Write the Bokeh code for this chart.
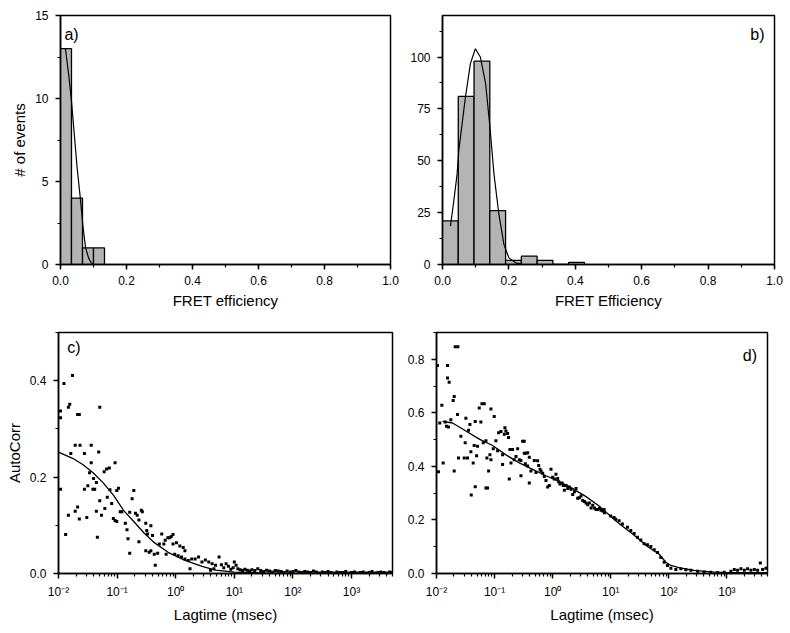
from bokeh.plotting import figure
from bokeh.layouts import column, row
from bokeh.models import (Range1d, SingleIntervalTicker, FixedTicker, NumeralTickFormatter,
                          CustomJSTickFormatter, Label)
from bokeh.embed import file_html
from bokeh.resources import INLINE
import numpy as np

FONT = "Liberation Sans"

# ---------------- data ----------------
# a) FRET efficiency histogram
a_bin_edges = [0.0, 0.0333, 0.0667, 0.1, 0.1333]
a_counts = [13, 4, 1, 1]
a_fit_x = [0.015, 0.025, 0.033, 0.042, 0.05, 0.06, 0.068, 0.076, 0.085, 0.093, 0.1]
a_fit_y = [13.0, 11.4, 9.9, 7.8, 5.9, 4.0, 2.3, 1.0, 0.4, 0.1, 0.0]

# b) FRET Efficiency histogram
b_bin_edges = [0.0, 0.0475, 0.095, 0.1425, 0.19, 0.2375, 0.285, 0.3325, 0.38, 0.4275]
b_counts = [21, 81, 98, 26, 2, 4, 2, 0, 1]
b_fit_x = [0.024, 0.034, 0.044, 0.049, 0.069, 0.084, 0.099, 0.114, 0.13, 0.143, 0.155,
           0.17, 0.185, 0.2, 0.22, 0.235]
b_fit_y = [18.5, 30.6, 43.6, 54.8, 80.6, 96.8, 104, 100, 87, 66, 43.6,
           24, 9.7, 3.2, 0.8, 0.3]

# c) autocorrelation (log10 of lag time in msec)
c_lag_exp_short = [
    -1.761, -1.907, -1.965, -1.965, -1.808, -1.831, -1.674, -1.645, -1.296, -1.965,
    -1.878, -1.831, -1.79, -1.715, -1.633, -1.558, -1.442, -1.314, -1.674, -1.645,
    -1.715, -1.517, -1.558, -1.5, -1.413, -1.383, -1.471, -1.442, -1.401, -1.354,
    -1.296, -1.267, -1.354, -1.337, -1.221, -1.18, -1.133, -1.035, -1.209, -1.168,
    -1.122, -1.093, -1.064, -1.035, -1.005, -1.005, -0.977, -0.947, -0.918, -0.86,
    -0.831, -0.814, -0.785, -0.744, -0.715, -0.686, -0.657, -0.628, -0.785, -0.628,
    -0.587, -0.57, -0.511, -0.494, -0.482, -0.424, -0.395, -0.453, -0.511, -0.424,
    -0.366, -0.349, -0.308, -0.279, -0.238, -0.203, -0.18, -0.134, -0.104, -0.075,
    -0.046, -0.163, -0.046, 0.012, 0.07, 0.128, 0.157, -0.017, 0.041, 0.099,
    0.157, 0.215, 0.244, 0.273, 0.332, 0.39, 0.448, 0.506, 0.564, 0.622,
    0.68, 0.593, 0.651]
c_corr_short = [
    0.411, 0.394, 0.337, 0.323, 0.351, 0.345, 0.330, 0.330, 0.345, 0.175,
    0.081, 0.121, 0.249, 0.266, 0.266, 0.249, 0.266, 0.252, 0.138, 0.113,
    0.129, 0.116, 0.175, 0.182, 0.175, 0.175, 0.209, 0.230, 0.197, 0.189,
    0.151, 0.121, 0.129, 0.075, 0.211, 0.217, 0.219, 0.230, 0.135, 0.158,
    0.174, 0.145, 0.114, 0.110, 0.108, 0.172, 0.177, 0.128, 0.128, 0.104,
    0.091, 0.072, 0.127, 0.155, 0.172, 0.125, 0.121, 0.111, 0.042, 0.066,
    0.131, 0.128, 0.104, 0.089, 0.082, 0.099, 0.079, 0.044, 0.047, 0.047,
    0.040, 0.017, 0.042, 0.061, 0.082, 0.061, 0.069, 0.074, 0.074, 0.077,
    0.081, 0.040, 0.061, 0.064, 0.057, 0.054, 0.047, 0.040, 0.037, 0.034,
    0.030, 0.027, 0.010, 0.030, 0.030, 0.034, 0.024, 0.028, 0.024, 0.020,
    0.017, 0.007, 0.010]
c_lag_exp_long = [
    0.74, 0.78, 0.82, 0.86, 0.90, 0.94, 0.98, 1.00, 1.03, 1.06,
    1.10, 1.14, 1.18, 1.22, 1.26, 1.30, 1.35, 1.40, 1.45, 1.50,
    1.55, 1.60, 1.65, 1.70, 1.75, 1.80, 1.85, 1.90, 1.95, 2.00,
    2.05, 2.10, 2.15, 2.20, 2.25, 2.30, 2.35, 2.40, 2.45, 2.50,
    2.55, 2.60, 2.65, 2.70, 2.75, 2.80, 2.85, 2.90, 2.95, 3.00,
    3.05, 3.10, 3.15, 3.20, 3.25, 3.30, 3.35, 3.40, 3.45, 3.50,
    3.55, 3.60, 3.65, 3.69]
c_corr_long = [
    0.034, 0.018, 0.012, 0.020, 0.015, 0.009, 0.012, 0.024, 0.017, 0.010,
    0.008, 0.006, 0.009, 0.007, 0.005, 0.008, 0.006, 0.010, 0.006, 0.004,
    0.007, 0.005, 0.003, 0.006, 0.005, 0.004, 0.002, 0.005, 0.003, 0.004,
    0.006, 0.003, 0.002, 0.004, 0.003, 0.002, 0.005, 0.003, 0.001, 0.003,
    0.002, 0.004, 0.002, 0.001, 0.003, 0.002, 0.002, 0.004, 0.001, 0.002,
    0.003, 0.001, 0.002, 0.003, 0.001, 0.002, 0.004, 0.001, 0.002, 0.003,
    0.002, 0.001, 0.003, 0.002]
c_fit_exp = [-2.0, -1.76, -1.586, -1.41, -1.237, -1.06, -0.89, -0.716, -0.54, -0.365,
             -0.13, 0.16, 0.45, 0.68, 1.0, 1.5, 2.0, 2.5, 3.0, 3.7]
c_fit_val = [0.252, 0.239, 0.226, 0.209, 0.188, 0.162, 0.131, 0.108, 0.084, 0.064,
             0.044, 0.027, 0.015, 0.007, 0.003, 0.001, 0.0, 0.0, 0.0, 0.0]

# d) autocorrelation (log10 of lag time in msec)
d_lag_exp_short = [
    -1.983, -1.81, -1.678, -1.632, -1.81, -1.782, -1.713, -1.695, -1.908, -1.943,
    -1.851, -1.828, -1.793, -1.753, -1.638, -1.494, -1.425, -1.333, -1.966, -1.885,
    -1.695, -1.621, -1.58, -1.523, -1.466, -1.506, -1.448, -1.408, -1.368, -1.351,
    -1.293, -1.31, -1.264, -1.218, -1.178, -1.236, -1.195, -1.149, -1.063, -1.006,
    -1.132, -1.103, -1.08, -1.063, -1.023, -0.977, -0.948, -1.333, -1.402, -1.149,
    -1.121, -0.931, -0.891, -0.862, -0.862, -0.833, -0.822, -0.805, -0.776, -0.759,
    -0.736, -0.718, -0.69, -0.661, -0.632, -0.603, -0.575, -0.546, -0.747, -0.517,
    -0.489, -0.489, -0.46, -0.431, -0.402, -0.471, -0.431, -0.402, -0.546, -0.374,
    -0.316, -0.287, -0.259, -0.241, -0.218, -0.201, -0.172, -0.144, -0.115, -0.086,
    -0.057, -0.029, 0.0, 0.029, 0.057, 0.086, 0.103, 0.126, 0.161, 0.184,
    0.201, 0.23, 0.259, 0.287, 0.316, 0.345, 0.374, 0.402, 0.431, 0.46,
    0.489, 0.517, 0.546, 0.575, 0.603, 0.632, 0.661, 0.69, 0.718, 0.747,
    0.776, 0.805, 0.833, 0.862, 0.891]
d_corr_short = [
    0.777, 0.777, 0.847, 0.847, 0.730, 0.714, 0.646, 0.661, 0.628, 0.562,
    0.566, 0.550, 0.547, 0.574, 0.594, 0.580, 0.556, 0.568, 0.380, 0.413,
    0.383, 0.431, 0.513, 0.431, 0.431, 0.488, 0.535, 0.455, 0.413, 0.478,
    0.475, 0.440, 0.618, 0.634, 0.634, 0.566, 0.488, 0.496, 0.614, 0.586,
    0.431, 0.383, 0.443, 0.425, 0.466, 0.496, 0.458, 0.324, 0.293, 0.319,
    0.319, 0.526, 0.530, 0.443, 0.407, 0.520, 0.544, 0.532, 0.523, 0.508,
    0.463, 0.413, 0.463, 0.425, 0.437, 0.466, 0.425, 0.422, 0.353, 0.494,
    0.494, 0.449, 0.449, 0.451, 0.434, 0.410, 0.401, 0.338, 0.365, 0.383,
    0.422, 0.377, 0.421, 0.403, 0.389, 0.383, 0.374, 0.362, 0.347, 0.323,
    0.329, 0.389, 0.359, 0.353, 0.371, 0.355, 0.343, 0.334, 0.338, 0.329,
    0.311, 0.329, 0.317, 0.323, 0.315, 0.295, 0.305, 0.317, 0.281, 0.283,
    0.289, 0.273, 0.269, 0.263, 0.257, 0.263, 0.245, 0.255, 0.245, 0.239,
    0.239, 0.243, 0.236, 0.233, 0.227]
d_lag_exp_long = [
    0.885, 1.0, 1.058, 1.087, 1.144, 1.201, 1.288, 1.345, 1.403, 1.46,
    1.518, 1.575, 1.632, 1.69, 1.748, 1.805, 1.862, 1.92, 1.977, 2.035,
    2.121, 2.207, 2.293, 2.379, 2.495, 2.61, 2.724, 2.839, 2.954, 3.069,
    3.127, 3.184, 3.242, 3.3, 3.357, 3.414, 3.472, 3.529, 3.575, 3.615,
    3.672]
d_corr_long = [
    0.239, 0.215, 0.209, 0.203, 0.197, 0.185, 0.173, 0.161, 0.149, 0.135,
    0.125, 0.111, 0.107, 0.101, 0.089, 0.078, 0.060, 0.042, 0.030, 0.020,
    0.015, 0.018, 0.014, 0.012, 0.008, 0.006, 0.005, 0.003, 0.005, 0.008,
    0.015, 0.012, 0.018, 0.012, 0.018, 0.012, 0.015, 0.012, 0.039, 0.015,
    0.020]
d_fit_exp = [-1.897, -1.724, -1.494, -1.264, -1.034, -0.805, -0.575, -0.345, -0.115, 0.115,
             0.345, 0.575, 0.805, 1.115, 1.403, 1.633, 1.834, 1.949, 2.035, 2.207,
             2.437, 2.724, 3.012, 3.7]
d_fit_val = [0.568, 0.562, 0.532, 0.502, 0.478, 0.443, 0.413, 0.389, 0.365, 0.343,
             0.317, 0.287, 0.251, 0.191, 0.143, 0.101, 0.072, 0.042, 0.03, 0.02,
             0.012, 0.006, 0.003, 0.003]

log_major = [0.01, 0.1, 1, 10, 100, 1000]

# ---------------- helpers ----------------
def make_fig(width, height, x_range, y_range, left, right, top, bottom, x_log=False):
    p = figure(width=width, height=height, x_range=x_range, y_range=y_range,
               x_axis_type="log" if x_log else "linear",
               output_backend="svg", toolbar_location=None,
               min_border_left=left, min_border_right=right,
               min_border_top=top, min_border_bottom=bottom,
               background_fill_color="white", border_fill_color="white")
    p.xgrid.visible = False
    p.ygrid.visible = False
    p.outline_line_color = "black"
    p.outline_line_width = 1.5
    p.outline_line_alpha = 1.0
    for ax in (p.xaxis[0], p.yaxis[0]):
        ax.axis_line_width = 1.5
        ax.axis_line_color = "black"
        ax.major_tick_line_color = "black"
        ax.minor_tick_line_color = "black"
        ax.major_tick_line_width = 1.5
        ax.minor_tick_line_width = 1.2
        ax.major_tick_in = 0
        ax.major_tick_out = 5
        ax.minor_tick_in = 0
        ax.minor_tick_out = 3
        ax.major_label_text_font = FONT
        ax.major_label_text_font_size = "12px"
        ax.major_label_text_color = "black"
        ax.axis_label_text_font = FONT
        ax.axis_label_text_font_size = "15px"
        ax.axis_label_text_font_style = "normal"
        ax.axis_label_text_color = "black"
    p.xaxis[0].major_label_standoff = 6
    p.xaxis[0].axis_label_standoff = 4
    p.yaxis[0].major_label_standoff = 7
    p.yaxis[0].axis_label_standoff = 4
    return p


def panel_label(p, x, y, text, align):
    p.add_layout(Label(x=x, y=y, text=text, text_font=FONT, text_font_size="16px",
                       text_baseline="middle", text_align=align, text_color="black"))


log_fmt = CustomJSTickFormatter(code="""
const e = Math.round(Math.log10(tick));
const sup = {'-':'\u207b','0':'\u2070','1':'\u00b9','2':'\u00b2','3':'\u00b3',
             '4':'\u2074','5':'\u2075','6':'\u2076','7':'\u2077','8':'\u2078','9':'\u2079'};
return '10' + String(e).split('').map(c => sup[c]).join('');
""")

minor_log = []
for m in log_major:
    for k in range(2, 10):
        minor_log.append(m * k)

BAR_FILL = "#b4b4b4"

# ---------------- panel a ----------------
pa = make_fig(403, 312, Range1d(0, 1), Range1d(0, 15), 60, 13, 15, 48)
pa.quad(left=a_bin_edges[:-1], right=a_bin_edges[1:], bottom=0, top=a_counts,
        fill_color=BAR_FILL, line_color="black", line_width=1.3)
pa.line(a_fit_x, a_fit_y, line_color="black", line_width=1.2)
pa.xaxis[0].ticker = SingleIntervalTicker(interval=0.2, num_minor_ticks=2)
pa.xaxis[0].formatter = NumeralTickFormatter(format="0.0")
pa.yaxis[0].ticker = SingleIntervalTicker(interval=5, num_minor_ticks=2)
pa.xaxis[0].axis_label = "FRET efficiency"
pa.yaxis[0].axis_label = "# of events"
panel_label(pa, 0.012, 13.85, "a)", "left")

# ---------------- panel b ----------------
pb = make_fig(387, 312, Range1d(0, 1), Range1d(0, 120), 39, 16, 15, 48)
pb.quad(left=b_bin_edges[:-1], right=b_bin_edges[1:], bottom=0, top=b_counts,
        fill_color=BAR_FILL, line_color="black", line_width=1.3)
pb.line(b_fit_x, b_fit_y, line_color="black", line_width=1.2)
pb.xaxis[0].ticker = SingleIntervalTicker(interval=0.2, num_minor_ticks=2)
pb.xaxis[0].formatter = NumeralTickFormatter(format="0.0")
pb.yaxis[0].ticker = SingleIntervalTicker(interval=25, num_minor_ticks=2)
pb.xaxis[0].axis_label = "FRET Efficiency"
panel_label(pb, 0.97, 110.7, "b)", "right")

# ---------------- panel c ----------------
pc = make_fig(403, 313, Range1d(0.01, 5000), Range1d(0, 0.5), 58, 11, 20, 45, x_log=True)
c_lag = 10 ** np.array(c_lag_exp_short + c_lag_exp_long)
c_corr = np.array(c_corr_short + c_corr_long)
pc.line(10 ** np.array(c_fit_exp), c_fit_val, line_color="black", line_width=1.3)
pc.scatter(c_lag, c_corr, marker="square", size=3, fill_color="black", line_color=None)
pc.xaxis[0].ticker = FixedTicker(ticks=log_major, minor_ticks=minor_log)
pc.xaxis[0].formatter = log_fmt
pc.yaxis[0].ticker = SingleIntervalTicker(interval=0.2, num_minor_ticks=2)
pc.yaxis[0].formatter = NumeralTickFormatter(format="0.0")
pc.xaxis[0].axis_label = "Lagtime (msec)"
pc.yaxis[0].axis_label = "AutoCorr"
panel_label(pc, 0.0141, 0.469, "c)", "left")

# ---------------- panel d ----------------
pd = make_fig(387, 313, Range1d(0.01, 5000), Range1d(0, 0.9), 33, 23, 13, 50, x_log=True)
d_lag = 10 ** np.array(d_lag_exp_short + d_lag_exp_long)
d_corr = np.array(d_corr_short + d_corr_long)
pd.line(10 ** np.array(d_fit_exp), d_fit_val, line_color="black", line_width=1.3)
pd.scatter(d_lag, d_corr, marker="square", size=3, fill_color="black", line_color=None)
pd.xaxis[0].ticker = FixedTicker(ticks=log_major, minor_ticks=minor_log)
pd.xaxis[0].formatter = log_fmt
pd.yaxis[0].ticker = SingleIntervalTicker(interval=0.2, num_minor_ticks=2)
pd.yaxis[0].formatter = NumeralTickFormatter(format="0.0")
pd.xaxis[0].axis_label = "Lagtime (msec)"
panel_label(pd, 3300, 0.814, "d)", "right")

layout = column(row(pa, pb), row(pc, pd))
open("out.html", "w").write(file_html(layout, INLINE))
